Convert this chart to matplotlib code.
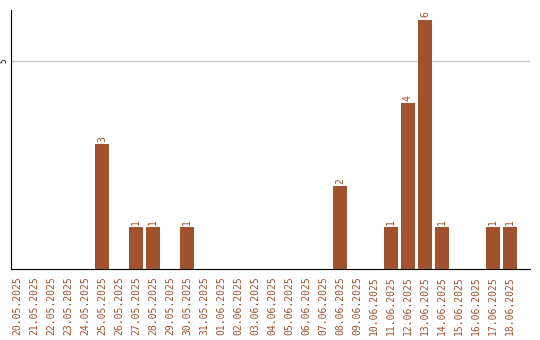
import matplotlib
matplotlib.use("Agg")
import matplotlib.pyplot as plt

dates = ["20.05.2025", "21.05.2025", "22.05.2025", "23.05.2025", "24.05.2025",
         "25.05.2025", "26.05.2025", "27.05.2025", "28.05.2025", "29.05.2025",
         "30.05.2025", "31.05.2025", "01.06.2025", "02.06.2025", "03.06.2025",
         "04.06.2025", "05.06.2025", "06.06.2025", "07.06.2025", "08.06.2025",
         "09.06.2025", "10.06.2025", "11.06.2025", "12.06.2025", "13.06.2025",
         "14.06.2025", "15.06.2025", "16.06.2025", "17.06.2025", "18.06.2025"]
values = [0, 0, 0, 0, 0, 3, 0, 1, 1, 0, 1, 0, 0, 0, 0, 0, 0, 0, 0, 2,
          0, 0, 1, 4, 6, 1, 0, 0, 1, 1]

color = "#A0522D"
fig = plt.figure(figsize=(5.4, 3.4), dpi=100)
ax = fig.add_axes([11/540, 1-269/340, (530-11)/540, (269-10)/340])
x = list(range(len(dates)))
ax.bar(x, values, width=0.82, color=color, zorder=3)
for xi, v in zip(x, values):
    if v > 0:
        ax.text(xi, v + 0.05, str(v), rotation=90, ha="center", va="bottom",
                color=color, fontsize=7, family="DejaVu Sans Mono")
ax.set_xlim(-0.35, 30.18)
ax.set_ylim(0, 6.23)
ax.set_yticks([5])
ax.set_yticklabels(["5"], rotation=90, va="center", fontsize=5.5, family="DejaVu Sans Mono")
ax.yaxis.grid(True, color="#c8c8c8", linewidth=1, zorder=0)
ax.set_xticks(x)
ax.set_xticklabels(dates, rotation=90, color=color, fontsize=7, family="DejaVu Sans Mono")
ax.tick_params(axis="x", length=0, pad=5)
ax.tick_params(axis="y", length=0, pad=1.5)
for s in ["top", "right"]:
    ax.spines[s].set_visible(False)
ax.spines["left"].set_color("black")
ax.spines["bottom"].set_color("black")
fig.savefig("out.png", dpi=100)
